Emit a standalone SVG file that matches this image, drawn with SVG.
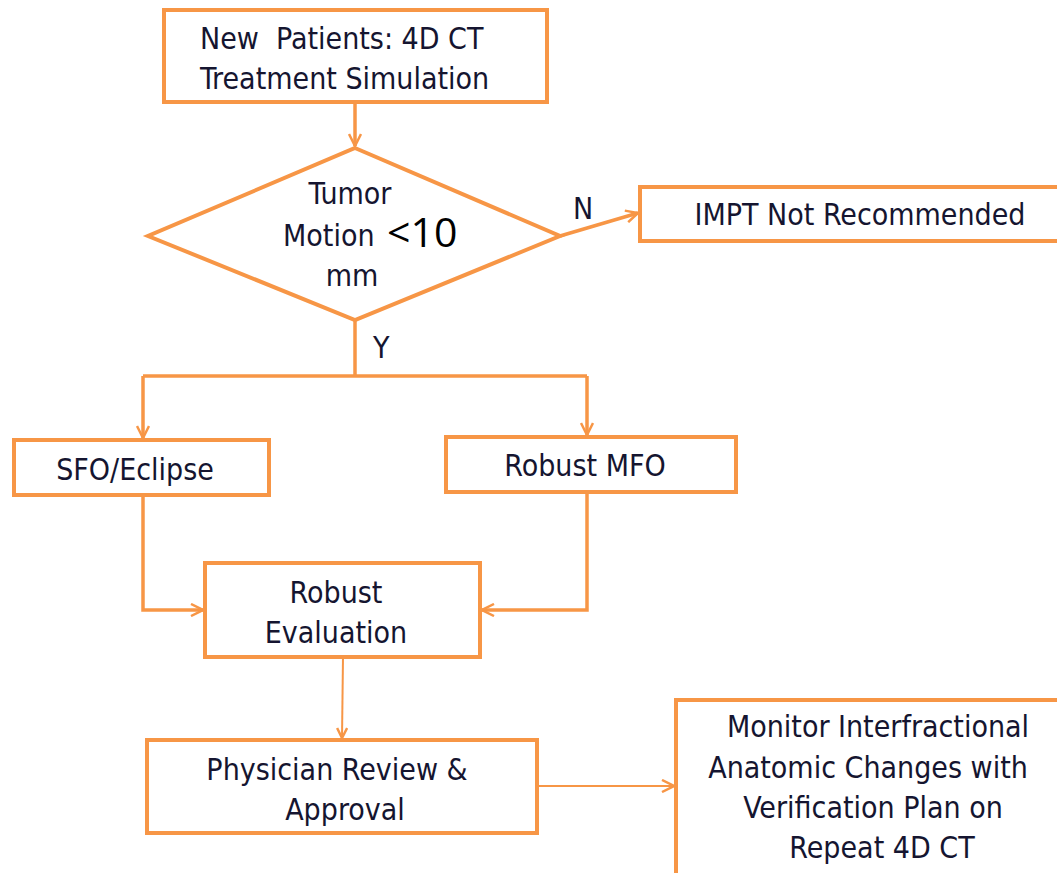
<svg xmlns="http://www.w3.org/2000/svg" width="1057" height="873" viewBox="0 0 1057 873">
<defs>
<style>
.box{fill:#fff;stroke:#F79646;stroke-width:4}
.ln{fill:none;stroke:#F79646;stroke-width:3.5}
.thin{fill:none;stroke:#F79646;stroke-width:2}
.t{font-family:"DejaVu Sans Condensed","DejaVu Sans","Liberation Sans",sans-serif;font-stretch:condensed;font-size:30px;fill:#151530;white-space:pre}
.c{text-anchor:middle}
</style>
<marker id="ah" viewBox="0 0 12 12" refX="11" refY="6" markerWidth="12" markerHeight="12" markerUnits="userSpaceOnUse" orient="auto">
<path d="M1,1 L11,6 L1,11" fill="none" stroke="#F79646" stroke-width="2.5"/>
</marker>
<marker id="ah2" viewBox="0 0 14 14" refX="13" refY="7" markerWidth="14" markerHeight="14" markerUnits="userSpaceOnUse" orient="auto">
<path d="M1,1 L13,7 L1,13" fill="none" stroke="#F79646" stroke-width="2.5"/>
</marker>
</defs>
<rect width="1057" height="873" fill="#fff"/>
<g id="connectors">
<path class="ln" d="M355,102 V146" marker-end="url(#ah2)"/>
<path class="ln" d="M560,236 L638,213" marker-end="url(#ah2)"/>
<path class="ln" d="M355,320 V376 M143,376 H587"/>
<path class="ln" d="M143,376 V438" marker-end="url(#ah2)"/>
<path class="ln" d="M587,376 V435" marker-end="url(#ah2)"/>
<path class="ln" d="M143,495 V610 H203" marker-end="url(#ah2)"/>
<path class="ln" d="M587,492 V610 H482" marker-end="url(#ah2)"/>
<path class="thin" d="M343,657 L342,738" marker-end="url(#ah)"/>
<path class="thin" d="M537,786 H674" marker-end="url(#ah2)"/>
<text class="t" x="573" y="219" font-size="26">N</text>
<text class="t" x="373" y="358" font-size="26">Y</text>
</g>
<g id="n1">
<rect class="box" x="164" y="10" width="383" height="92"/>
<text class="t" x="200" y="49" xml:space="preserve">New  Patients: 4D CT</text>
<text class="t" x="200" y="89">Treatment Simulation</text>
</g>
<g id="n2">
<polygon class="box" points="355,148 560,236 355,320 148,236"/>
<text class="t c" x="350" y="204">Tumor</text>
<text class="t" x="283" y="246">Motion</text>
<text x="387" y="247" font-family="'Open Sans',Lato,sans-serif" font-size="41" fill="#000">&lt;10</text>
<text class="t c" x="352" y="286">mm</text>
</g>
<g id="n3">
<rect class="box" x="640" y="187" width="425" height="54"/>
<text class="t c" x="860" y="225">IMPT Not Recommended</text>
</g>
<g id="n4">
<rect class="box" x="14" y="440" width="255" height="55"/>
<text class="t c" x="135" y="480">SFO/Eclipse</text>
</g>
<g id="n5">
<rect class="box" x="446" y="437" width="290" height="55"/>
<text class="t c" x="585" y="476">Robust MFO</text>
</g>
<g id="n6">
<rect class="box" x="205" y="563" width="275" height="94"/>
<text class="t c" x="336" y="603">Robust</text>
<text class="t c" x="336" y="643">Evaluation</text>
</g>
<g id="n7">
<rect class="box" x="147" y="740" width="390" height="93"/>
<text class="t c" x="337" y="780">Physician Review &amp;</text>
<text class="t c" x="345" y="820">Approval</text>
</g>
<g id="n8">
<rect class="box" x="676" y="700" width="395" height="185"/>
<text class="t c" x="878" y="737">Monitor Interfractional</text>
<text class="t c" x="868" y="778">Anatomic Changes with</text>
<text class="t c" x="873" y="818">Verification Plan on</text>
<text class="t c" x="882" y="858">Repeat 4D CT</text>
</g>
</svg>
